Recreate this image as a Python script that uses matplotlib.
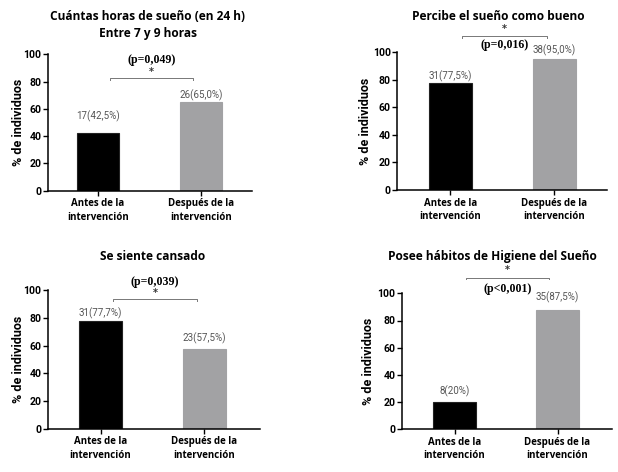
import matplotlib.pyplot as plt

W, H = 618, 472

categories = ['Antes de la\nintervención', 'Después de la\nintervención']
titles = ['Cuántas horas de sueño (en 24 h)\nEntre 7 y 9 horas',
          'Percibe el sueño como bueno',
          'Se siente cansado',
          'Posee hábitos de Higiene del Sueño']
values = [[42.5, 65.0], [77.5, 95.0], [77.7, 57.5], [20.0, 87.5]]
bar_labels = [['17(42,5%)', '26(65,0%)'], ['31(77,5%)', '38(95,0%)'],
              ['31(77,7%)', '23(57,5%)'], ['8(20%)', '35(87,5%)']]
p_values = ['(p=0,049)', '(p=0,016)', '(p=0,039)', '(p<0,001)']

# layout per panel, in pixels: left, right, y of 0, y of 100, xlim, ylabel right edge
panels = [
    dict(l=47.7, r=251.7, y0=190.7, y100=54.3, xlim=(-0.488, 1.492), ylab_x=25,
         title_xy=(148, 25), lab_y=[54.3, 70.2],
         br_y=82.6, br_x=(0.12, 0.92), star_y=87.0, p_y=95.8),
    dict(l=397, r=607, y0=190.0, y100=52.3, xlim=(-0.514, 1.505), ylab_x=372,
         title_xy=(498, 17), lab_y=[82.8, 101.7],
         br_y=111.8, br_x=(0.11, 0.93), star_y=117.0, p_y=105.3),
    dict(l=47.7, r=260, y0=428.7, y100=290.3, xlim=(-0.508, 1.534), ylab_x=25,
         title_xy=(153, 256), lab_y=[83.1, 65.0],
         br_y=93.5, br_x=(0.12, 0.93), star_y=98.0, p_y=106.2),
    dict(l=401.7, r=611.7, y0=429.3, y100=293.3, xlim=(-0.513, 1.526), ylab_x=375,
         title_xy=(492, 256.7), lab_y=[28.2, 96.8],
         br_y=111.5, br_x=(0.11, 0.92), star_y=117.0, p_y=103.0),
]

colors = ['black', '#a2a2a4']
sans = ['Open Sans', 'DejaVu Sans']
arial = ['Roboto', 'DejaVu Sans']

fig = plt.figure(figsize=(W / 100, H / 100), dpi=100)

for i, p in enumerate(panels):
    ax = fig.add_axes([p['l'] / W, 1 - p['y0'] / H,
                       (p['r'] - p['l']) / W, (p['y0'] - p['y100']) / H])
    ax.bar([0, 1], values[i], width=0.41, color=colors, edgecolor=['#222222', colors[1]],
           linewidth=0.8)
    ax.set_xlim(*p['xlim'])
    ax.set_ylim(0, 100)
    ax.set_yticks([0, 20, 40, 60, 80, 100])
    ax.set_xticks([0, 1])
    ax.set_xticklabels(categories, fontfamily=sans, fontweight='bold', fontsize=7,
                       linespacing=1.3)
    for t in ax.get_yticklabels():
        t.set_fontfamily(arial)
        t.set_fontweight('bold')
        t.set_fontsize(7.6)
    ax.tick_params(axis='both', direction='out', length=3.5, width=1, pad=2)
    ax.tick_params(axis='y', pad=1)
    ax.spines['top'].set_visible(False)
    ax.spines['right'].set_visible(False)
    ax.spines['left'].set_linewidth(1.1)
    ax.spines['bottom'].set_linewidth(1.1)
    ax.set_ylabel('% de individuos', fontfamily=arial, fontweight='bold', fontsize=9)
    ax.yaxis.set_label_coords((p['ylab_x'] - p['l']) / (p['r'] - p['l']), 0.5)

    for j in range(2):
        ax.text(j, p['lab_y'][j], bar_labels[i][j], ha='center', va='center',
                fontsize=7, color='#555555', fontfamily=arial, clip_on=False)

    x0, x1 = p['br_x']
    yb = p['br_y']
    ax.plot([x0, x0, x1, x1], [yb - 1.2, yb, yb, yb - 1.2], color='#777777', lw=0.7,
            clip_on=False)
    ax.text((x0 + x1) / 2, p['star_y'], '*', ha='center', va='center', fontsize=7,
            color='#333333', fontweight='bold', clip_on=False)
    ax.text((x0 + x1) / 2, p['p_y'], p_values[i], ha='center', va='center', fontsize=8.6,
            fontfamily='Liberation Serif', fontweight='bold', clip_on=False)

    tx, ty = p['title_xy']
    fig.text(tx / W, 1 - ty / H, titles[i], ha='center', va='center', fontsize=8.6,
             fontfamily=sans, fontweight='bold', linespacing=1.35)

fig.savefig('out.png', dpi=100)
